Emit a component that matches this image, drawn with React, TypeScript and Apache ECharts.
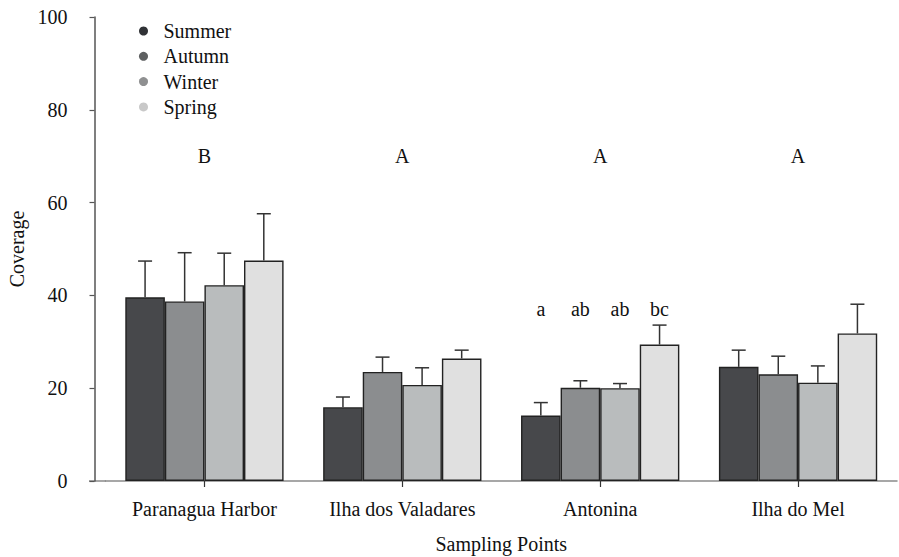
import React, { useEffect, useRef } from "react";
import * as echarts from "echarts";

const categories = ["Paranagua Harbor", "Ilha dos Valadares", "Antonina", "Ilha do Mel"];
const seasons = ["Summer", "Autumn", "Winter", "Spring"];

const summer = [39.6, 15.9, 14.1, 24.6];
const autumn = [38.7, 23.5, 20.1, 23.0];
const winter = [42.2, 20.7, 20.0, 21.2];
const spring = [47.5, 26.4, 29.4, 31.8];

const summerErr = [7.8, 2.2, 2.8, 3.6];
const autumnErr = [10.5, 3.2, 1.5, 3.9];
const winterErr = [6.9, 3.7, 1.0, 3.6];
const springErr = [10.1, 1.8, 4.2, 6.3];

const groupLetters = ["B", "A", "A", "A"];
const groupLetterY = 70;

const antoninaLetters = ["a", "ab", "ab", "bc"];
const antoninaIndex = 2;
const antoninaLetterY = 37;

const yTicks = [0, 20, 40, 60, 80, 100];

const barColors = ["#47484b", "#8b8d8f", "#b9bcbd", "#e0e0e0"];
const legendColors = ["#303236", "#5e6061", "#8f9091", "#c8c8c8"];

const FONT = "'Times New Roman', 'Liberation Serif', Times, serif";
const FS = 20;

export default function App() {
  const ref = useRef<HTMLDivElement>(null);
  useEffect(() => {
    if (!ref.current) return;
    const chart = echarts.init(ref.current, undefined, { renderer: "svg" });
    const values = [summer, autumn, winter, spring];
    const errs = [summerErr, autumnErr, winterErr, springErr];

    const errData: number[][] = [];
    for (let s = 0; s < 4; s++) {
      for (let c = 0; c < categories.length; c++) {
        errData.push([c, s, values[s][c], errs[s][c]]);
      }
    }
    const lowerData = antoninaLetters.map((_, s) => [antoninaIndex, s, antoninaLetterY]);
    const upperData = groupLetters.map((_, c) => [c, groupLetterY]);

    const barOffset = (band: number, s: number) => {
      const barW = band * 0.2;
      return -band * 0.4 + (s + 0.5) * barW;
    };

    const option: any = {
      animation: false,
      backgroundColor: "#ffffff",
      textStyle: { fontFamily: FONT },
      grid: { left: 105.5, right: 2, top: 17, bottom: 76, outerBoundsMode: "none", containLabel: false },
      legend: {
        orient: "vertical",
        left: 134,
        top: 16,
        icon: "circle",
        itemWidth: 30,
        itemHeight: 9,
        itemGap: 5.3,
        itemStyle: { borderWidth: 0 },
        textStyle: { fontFamily: FONT, fontSize: FS, color: "#111", lineHeight: 20 },
        data: seasons.map((name, i) => ({ name, itemStyle: { color: legendColors[i], borderWidth: 0 } })),
      },
      xAxis: {
        type: "category",
        data: categories,
        axisLine: { lineStyle: { color: "#8a8a8a", width: 1.5 } },
        axisTick: { show: true, alignWithLabel: true, length: 6, lineStyle: { color: "#333", width: 1.2 } },
        axisLabel: { fontFamily: FONT, fontSize: FS, color: "#111", margin: 18 },
        name: "Sampling Points",
        nameLocation: "middle",
        nameGap: 53,
        nameTextStyle: { fontFamily: FONT, fontSize: FS, color: "#111" },
        splitLine: { show: false },
      },
      yAxis: {
        type: "value",
        min: 0,
        max: 100,
        interval: 20,
        offset: 11,
        axisLine: { show: true, lineStyle: { color: "#555", width: 1.5 } },
        axisTick: { show: true, length: 5, lineStyle: { color: "#555", width: 1.2 } },
        axisLabel: {
          fontFamily: FONT,
          fontSize: FS,
          color: "#111",
          margin: 27,
          formatter: (v: number) => (yTicks.includes(v) ? String(v) : ""),
        },
        splitLine: { show: false },
        name: "Coverage",
        nameLocation: "middle",
        nameGap: 66,
        nameTextStyle: { fontFamily: FONT, fontSize: FS, color: "#111" },
      },
      graphic: [
        {
          type: "line",
          shape: { x1: 89, y1: 481, x2: 106, y2: 481 },
          style: { stroke: "#8a8a8a", lineWidth: 1.5 },
          silent: true,
        },
      ],
      series: [
        ...seasons.map((name, i) => ({
          name,
          type: "bar",
          data: values[i],
          barCategoryGap: "20%",
          barGap: "0%",
          itemStyle: { color: barColors[i], borderColor: "#222", borderWidth: 1.4 },
          z: 2,
        })),
        {
          type: "custom",
          name: "errors",
          data: errData,
          z: 3,
          silent: true,
          renderItem: (params: any, api: any) => {
            const cat = api.value(0);
            const s = api.value(1);
            const v = api.value(2);
            const e = api.value(3);
            const band = api.size([1, 0])[0];
            const base = api.coord([cat, v]);
            const top = api.coord([cat, v + e]);
            const x = base[0] + barOffset(band, s);
            const half = 7;
            const st = { stroke: "#333", lineWidth: 1.5 };
            return {
              type: "group",
              children: [
                { type: "line", shape: { x1: x, y1: base[1], x2: x, y2: top[1] }, style: st },
                { type: "line", shape: { x1: x - half, y1: top[1], x2: x + half, y2: top[1] }, style: st },
              ],
            };
          },
        },
        {
          type: "custom",
          name: "lowerLetters",
          data: lowerData,
          z: 4,
          silent: true,
          renderItem: (params: any, api: any) => {
            const cat = api.value(0);
            const s = api.value(1);
            const y = api.value(2);
            const band = api.size([1, 0])[0];
            const p = api.coord([cat, y]);
            return {
              type: "text",
              x: p[0] + barOffset(band, s),
              y: p[1],
              style: {
                text: antoninaLetters[params.dataIndex],
                fontFamily: FONT,
                fontSize: FS,
                fill: "#111",
                align: "center",
                verticalAlign: "middle",
              },
            };
          },
        },
        {
          type: "custom",
          name: "upperLetters",
          data: upperData,
          z: 4,
          silent: true,
          renderItem: (params: any, api: any) => {
            const p = api.coord([api.value(0), api.value(1)]);
            return {
              type: "text",
              x: p[0],
              y: p[1],
              style: {
                text: groupLetters[params.dataIndex],
                fontFamily: FONT,
                fontSize: FS,
                fill: "#111",
                align: "center",
                verticalAlign: "middle",
              },
            };
          },
        },
      ],
    };
    chart.setOption(option);
    return () => chart.dispose();
  }, []);
  return (
    <div
      ref={ref}
      style={{ position: "fixed", left: 0, top: 0, width: 899, height: 557, background: "#fff" }}
    />
  );
}
